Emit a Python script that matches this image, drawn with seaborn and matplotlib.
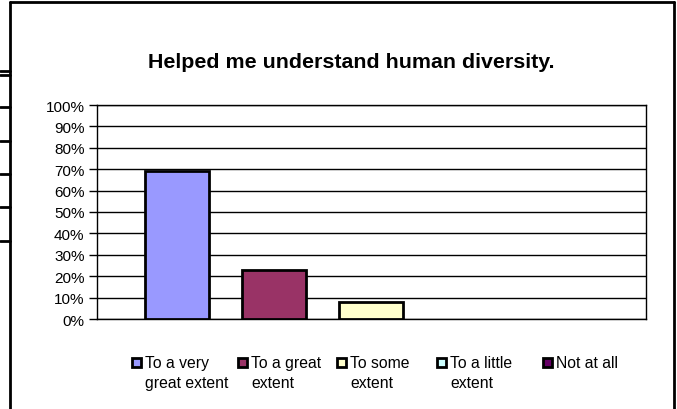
import matplotlib
matplotlib.use("Agg")
import matplotlib.pyplot as plt
import seaborn as sns
from matplotlib.lines import Line2D
from matplotlib.ticker import PercentFormatter

# data
categories = ['To a very great extent', 'To a great extent', 'To some extent',
              'To a little extent', 'Not at all']
legend_labels = ['To a very\ngreat extent', 'To a great\nextent', 'To some\nextent',
                 'To a little\nextent', 'Not at all']
shares = [0.69, 0.23, 0.08, 0.0, 0.0]
colors = ['#9999FF', '#993366', '#FFFFCC', '#CCFFFF', '#660066']
title = 'Helped me understand human diversity.'

sns.set_style('white')
plt.rcParams['font.family'] = ['Liberation Sans', 'DejaVu Sans']
plt.rcParams['text.color'] = 'black'

fig = plt.figure(figsize=(6.77, 4.10), dpi=100)
ax = fig.add_axes([97 / 677, 1 - 320 / 410, 549 / 677, 214 / 410])

sns.barplot(x=categories, y=shares, hue=categories, palette=colors, width=0.66,
            edgecolor='black', linewidth=2, saturation=1, legend=False, ax=ax, zorder=3)
# empty categories show no bar outline at all
for p in ax.patches:
    if p.get_height() == 0:
        p.set_visible(False)

ax.set_ylim(0, 1)
ax.set_xlim(-0.825, 4.835)
ax.set_yticks([i / 10 for i in range(11)])
ax.yaxis.set_major_formatter(PercentFormatter(1.0, decimals=0))
ax.grid(axis='y', color='black', linewidth=1)
ax.set_axisbelow(True)
ax.set_xticks([])
ax.set_xlabel('')
ax.set_ylabel('')
ax.tick_params(axis='y', left=True, length=6, width=1, color='black',
               labelcolor='black', labelsize=11, pad=3)
for s in ax.spines.values():
    s.set_color('black')
    s.set_linewidth(1)

fig.text(351 / 677, 1 - 62 / 410, title, ha='center', va='center',
         fontsize=15.4, fontweight='bold')

# legend: one small legend per entry, placed like the Excel legend slots
slot_x = [132, 238, 337, 437, 543]
for c, lab, x0 in zip(colors, legend_labels, slot_x):
    h = plt.Rectangle((0, 0), 1, 1, facecolor=c, edgecolor='black', linewidth=2)
    leg = fig.legend([h], [lab], loc='upper left',
                     bbox_to_anchor=(x0 / 677, 1 - 356 / 410), frameon=False,
                     fontsize=11.3, handlelength=0.55, handleheight=0.55,
                     handletextpad=0.3, borderpad=0, borderaxespad=0)
    for t in leg.get_texts():
        t.set_linespacing(1.4)
    # put the swatch next to the first line of the label
    for col in leg._legend_handle_box.get_children():
        for item in col.get_children():
            item.align = 'top'
    for hp in leg.legend_handles:
        hp.set_y(hp.get_y() - 2)

# outer chart frame (no bottom edge) and the stray stubs on the left
fig.add_artist(Line2D([10 / 677, 10 / 677], [0, 1 - 3 / 410], color='black', lw=2))
fig.add_artist(Line2D([10 / 677, 674 / 677], [1 - 3 / 410, 1 - 3 / 410], color='black', lw=2))
fig.add_artist(Line2D([674 / 677, 674 / 677], [0, 1 - 3 / 410], color='black', lw=2))
for yy in [72, 76, 108, 142, 175, 208, 242]:
    fig.add_artist(Line2D([0, 10 / 677], [1 - yy / 410, 1 - yy / 410], color='black', lw=2))

fig.savefig('out.png', dpi=100)
